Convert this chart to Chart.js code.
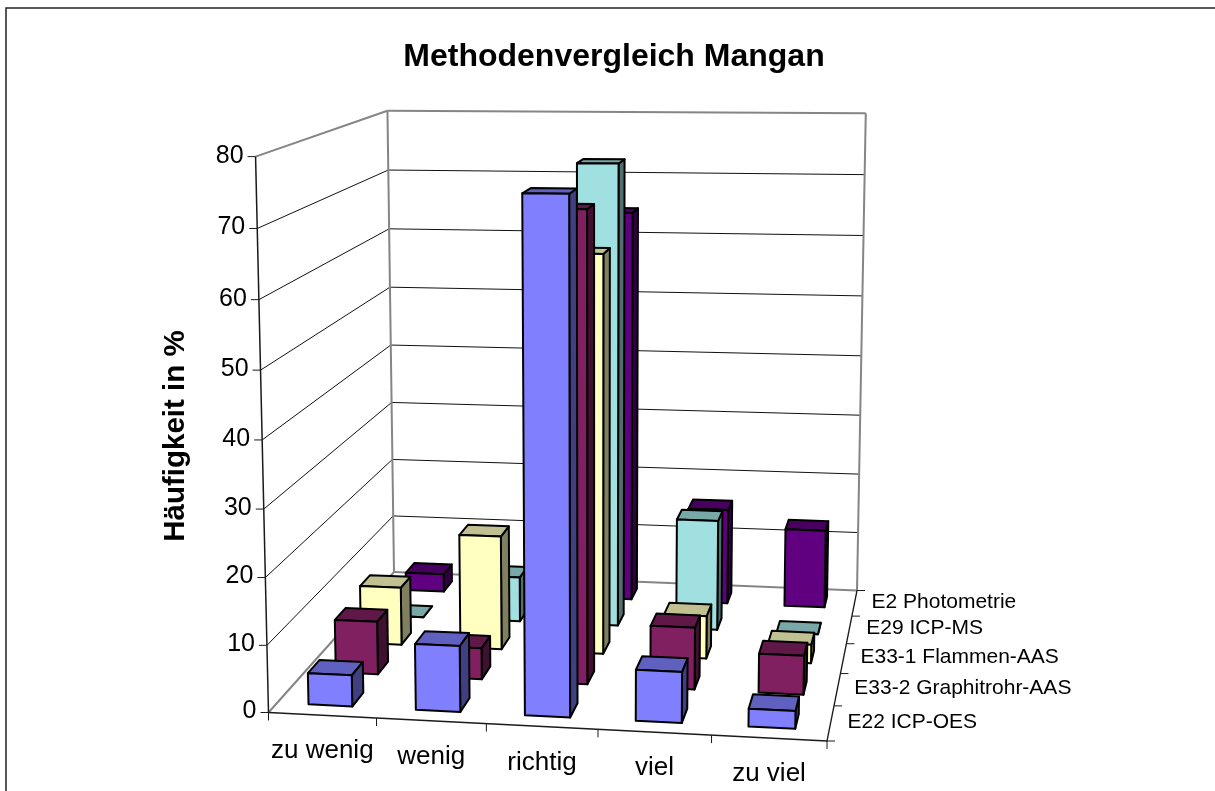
<!DOCTYPE html>
<html lang="de">
<head>
<meta charset="utf-8">
<title>Methodenvergleich Mangan</title>
<style>html,body{margin:0;padding:0;background:#fff}canvas{display:block}</style>
<script src="https://cdn.jsdelivr.net/npm/chart.js@4/dist/chart.umd.min.js"></script>
</head>
<body>
<canvas id="c" width="1215" height="791"></canvas>
<script>
const chartTitle = 'Methodenvergleich Mangan';
const yTitle = 'Häufigkeit in %';
const categories = ['zu wenig', 'wenig', 'richtig', 'viel', 'zu viel'];
const seriesNames = ['E22 ICP-OES', 'E33-2 Graphitrohr-AAS', 'E33-1 Flammen-AAS', 'E29 ICP-MS', 'E2 Photometrie'];
const e22 = [4.7, 9.8, 74.8, 7.5, 2.6];
const e33_2 = [8.2, 4.8, 70.8, 9.4, 5.9];
const e33_1 = [9.2, 18, 62.2, 6.7, 2.9];
const e29 = [0, 7.3, 74.2, 17.8, 0];
const e2 = [3, 0, 64.6, 15.8, 12.9];
const seriesValues = [e22, e33_2, e33_1, e29, e2];
const seriesFront = ['#8080FF', '#802060', '#FFFFC0', '#A0E0E0', '#600080'];
const seriesTop = ['#6060C0', '#601848', '#C0C090', '#78A8A8', '#480060'];
const seriesSide = ['#404080', '#401030', '#808060', '#507070', '#300040'];

// Perspective frame of the plot cube: floor [front-left, front-right, back-right, back-left]
const FLOOR = [[268.5,712.5],[827,741],[857,590.5],[394,572]];
// Reference points on the vertical edges: [u, v, w, screenX, screenY]
const WALL_REFS = [[0,1,0,254.7,155],[0,1,0,254.7,155],[0,1,0,254.7,155],[0,1,1,389,110],[1,1,1,866,120],
                   [0,.5,0,261.5,439.5],[0,.5,1,391.5,343],[1,.5,1,862,355],[0,.25,0,265,576.7]];
const BAR_DEPTH = 0.42;
const FONT = '"Liberation Sans", Arial, sans-serif';

function floorMatrix(q) {
  const [[x0,y0],[x1,y1],[x2,y2],[x3,y3]] = q;
  const dx1=x1-x2, dx2=x3-x2, sx=x0-x1+x2-x3, dy1=y1-y2, dy2=y3-y2, sy=y0-y1+y2-y3;
  const den=dx1*dy2-dx2*dy1, g=(sx*dy2-dx2*sy)/den, h=(dx1*sy-sx*dy1)/den;
  return {a:x1-x0+g*x1,b:x3-x0+h*x3,c:x0,d:y1-y0+g*y1,e:y3-y0+h*y3,f:y0,g,h};
}
const M = floorMatrix(FLOOR);
function hom(u,w){return [M.a*u+M.b*w+M.c, M.d*u+M.e*w+M.f, M.g*u+M.h*w+1];}
// Least-squares vertical column of the 3x4 projection
function solveVertical(){
  const A=[[0,0,0],[0,0,0],[0,0,0]], B=[0,0,0];
  const add=(row,rhs)=>{for(let i=0;i<3;i++){B[i]+=row[i]*rhs;for(let j=0;j<3;j++)A[i][j]+=row[i]*row[j];}};
  WALL_REFS.forEach(([u,v,w,X,Y])=>{
    const [hx,hy,hk]=hom(u,w);
    add([v,0,-X*v],X*hk-hx);
    add([0,v,-Y*v],Y*hk-hy);
  });
  for(let i=0;i<3;i++){
    let m=i;for(let r=i+1;r<3;r++)if(Math.abs(A[r][i])>Math.abs(A[m][i]))m=r;
    [A[i],A[m]]=[A[m],A[i]];[B[i],B[m]]=[B[m],B[i]];
    for(let r=0;r<3;r++){if(r===i)continue;const k=A[r][i]/A[i][i];for(let c=0;c<3;c++)A[r][c]-=k*A[i][c];B[r]-=k*B[i];}
  }
  return [B[0]/A[0][0],B[1]/A[1][1],B[2]/A[2][2]];
}
const VERT = solveVertical();
function project(u,v,w){
  const [hx,hy,hk]=hom(u,w), k=hk+VERT[2]*v;
  return [(hx+VERT[0]*v)/k,(hy+VERT[1]*v)/k];
}
function line(ctx,a,b,color,lw){
  ctx.strokeStyle=color;ctx.lineWidth=lw;ctx.beginPath();ctx.moveTo(a[0],a[1]);ctx.lineTo(b[0],b[1]);ctx.stroke();
}
function poly(ctx,pts,fill){
  ctx.fillStyle=fill;ctx.beginPath();
  pts.forEach((p,i)=>i?ctx.lineTo(p[0],p[1]):ctx.moveTo(p[0],p[1]));
  ctx.closePath();ctx.fill();ctx.stroke();
}

const cube3d = {
  id:'cube3d',
  beforeDraw(chart){
    const {ctx,width,height}=chart, y=chart.scales.y, a=chart.chartArea;
    const vOf=val=>(a.bottom-y.getPixelForValue(val))/a.height;
    ctx.save();
    ctx.fillStyle='#fff';ctx.fillRect(0,0,width,height);
    ctx.lineCap='butt';
    ctx.strokeStyle='#222';ctx.lineWidth=1.5;ctx.beginPath();ctx.moveTo(6,height);ctx.lineTo(6,8);ctx.lineTo(width,8);ctx.stroke();
    y.ticks.forEach(t=>{
      const v=vOf(t.value);
      if(t.value>0&&t.value<80){
        line(ctx,project(0,v,0),project(0,v,1),'#111',1);
        line(ctx,project(0,v,1),project(1,v,1),'#111',1);
      }
    });
    const G='#858585';
    line(ctx,project(0,0,0),project(0,0,1),G,2);
    line(ctx,project(0,0,1),project(1,0,1),G,2);
    line(ctx,project(0,1,0),project(0,1,1),G,2);
    line(ctx,project(0,1,1),project(1,1,1),G,2);
    line(ctx,project(0,0,1),project(0,1,1),G,2);
    line(ctx,project(1,0,1),project(1,1,1),G,2);
    const K='#1a1a1a';
    line(ctx,project(0,0,0),project(0,1,0),K,1.5);
    line(ctx,project(0,0,0),project(1,0,0),K,1.3);
    line(ctx,project(1,0,0),project(1,0,1),K,1.3);
    y.ticks.forEach(t=>{
      const p=project(0,vOf(t.value),0);
      line(ctx,[p[0]-8,p[1]],p,K,1);
    });
    for(let i=0;i<=categories.length;i++){
      const p=project(i/categories.length,0,0);
      line(ctx,p,[p[0],p[1]+8],K,1);
    }
    for(let i=0;i<=seriesNames.length;i++){
      const p=project(1,0,i/seriesNames.length);
      line(ctx,p,[p[0]+8,p[1]],K,1);
    }
    ctx.fillStyle='#000';
    ctx.textBaseline='middle';
    ctx.font='25px '+FONT;ctx.textAlign='right';
    y.ticks.forEach(t=>{
      const p=project(0,vOf(t.value),0);
      ctx.fillText(String(t.value),p[0]-12,p[1]-1);
    });
    ctx.font='26px '+FONT;ctx.textAlign='center';
    const xs=chart.scales.x;
    categories.forEach((c,i)=>{
      const p=project((xs.getPixelForValue(i)-a.left)/a.width,0,0);
      ctx.fillText(c,p[0],p[1]+36);
    });
    ctx.font='21px '+FONT;ctx.textAlign='left';
    const ds=chart.scales.depth;
    seriesNames.forEach((s,i)=>{
      const p=project(1,0,(ds.getPixelForValue(i)-a.top)/a.height);
      ctx.fillText(s,p[0]+17,p[1]-1);
    });
    ctx.save();
    ctx.translate(176,436);ctx.rotate(-Math.PI/2);
    ctx.font='bold 29.5px '+FONT;ctx.textAlign='center';
    ctx.fillText(yTitle,0,0);
    ctx.restore();
    ctx.restore();
  },
  beforeDatasetDraw(){ return false; },
  afterDatasetsDraw(chart){
    const {ctx}=chart, a=chart.chartArea, ds=chart.scales.depth;
    ctx.save();
    ctx.strokeStyle='#000';ctx.lineWidth=2;ctx.lineJoin='round';
    const halfD=BAR_DEPTH/seriesNames.length/2;
    for(let s=seriesNames.length-1;s>=0;s--){
      const meta=chart.getDatasetMeta(s);
      const wc=(ds.getPixelForValue(s)-a.top)/a.height;
      meta.data.forEach(el=>{
        const uc=(el.x-a.left)/a.width, hw=el.width/2/a.width;
        const v=(a.bottom-el.y)/a.height;
        const u0=uc-hw,u1=uc+hw,w0=wc-halfD,w1=wc+halfD;
        poly(ctx,[project(u1,0,w0),project(u1,0,w1),project(u1,v,w1),project(u1,v,w0)],seriesSide[s]);
        poly(ctx,[project(u0,v,w0),project(u1,v,w0),project(u1,v,w1),project(u0,v,w1)],seriesTop[s]);
        poly(ctx,[project(u0,0,w0),project(u1,0,w0),project(u1,v,w0),project(u0,v,w0)],seriesFront[s]);
      });
    }
    ctx.restore();
  }
};

new Chart(document.getElementById('c'),{
  type:'bar',
  data:{
    labels:categories,
    datasets:seriesNames.map((n,i)=>({label:n,data:seriesValues[i],backgroundColor:seriesFront[i],borderColor:'#000',borderWidth:1,grouped:false}))
  },
  options:{
    responsive:false,
    animation:false,
    devicePixelRatio:1,
    layout:{padding:{left:13,right:0,top:0,bottom:0}},
    datasets:{bar:{barPercentage:0.41,categoryPercentage:1}},
    plugins:{
      legend:{display:false},
      tooltip:{enabled:false},
      title:{display:true,text:chartTitle,color:'#000',font:{family:FONT,size:32,weight:'bold'},padding:{top:38,bottom:78.6}}
    },
    scales:{
      x:{type:'category',offset:true,grid:{display:false},border:{display:false},ticks:{display:false},afterFit(s){s.height=79;}},
      y:{type:'linear',min:0,max:80,ticks:{display:false,stepSize:10},grid:{display:false},border:{display:false},
         title:{display:false,text:yTitle},
         afterFit(s){s.width=255.5;}},
      depth:{type:'category',axis:'y',position:'right',labels:seriesNames,offset:true,ticks:{display:false},grid:{display:false},border:{display:false},afterFit(s){s.width=388;}}
    }
  },
  plugins:[cube3d]
});
</script>
</body>
</html>
